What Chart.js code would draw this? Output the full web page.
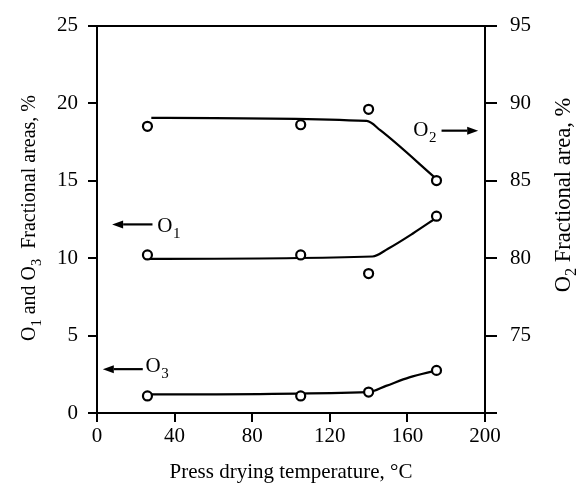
<!DOCTYPE html>
<html>
<head>
<meta charset="utf-8">
<script src="https://cdn.jsdelivr.net/npm/chart.js@4/dist/chart.umd.min.js"></script>
<style>
  html, body { margin: 0; padding: 0; background: #fff; }
  canvas { display: block; }
</style>
</head>
<body>
<canvas id="chart" width="577" height="485"></canvas>
<script>
  // measured points (temperature in °C)
  const temperatures = [26, 105, 140, 175];
  const o1Measured = [10.2, 10.2, 9.0, 12.7];
  const o2Measured = [88.5, 88.6, 89.6, 85.0];
  const o3Measured = [1.1, 1.1, 1.35, 2.75];

  // hand drawn trend curves
  const o1CurveTemps = [27, 142, 150, 163, 175];
  const o1Curve = [9.95, 10.1, 10.6, 11.6, 12.6];
  const o2CurveTemps = [28, 139, 146, 175];
  const o2Curve = [89.05, 88.85, 88.25, 85.1];
  const o3CurveTemps = [26, 140, 149, 161, 175];
  const o3Curve = [1.2, 1.35, 1.75, 2.3, 2.75];

  const xTicks = [0, 40, 80, 120, 160, 200];
  const leftTicks = [0, 5, 10, 15, 20, 25];
  const rightTicks = [70, 75, 80, 85, 90, 95];

  const FONT = "'Liberation Serif', 'Times New Roman', serif";

  // arrows with their series names, in data units
  const notes = [
    { axis: "yL", from: 28.6, to: 7.8, y: 12.17, name: "O", sub: "1", textX: 31.1, textY: 11.68 },
    { axis: "yL", from: 23.6, to: 3.0, y: 2.83, name: "O", sub: "3", textX: 25.0, textY: 2.63 },
    { axis: "yR", from: 177.6, to: 196.5, y: 88.22, name: "O", sub: "2", textX: 163.0, textY: 87.9 },
  ];

  function pts(xs, ys) {
    return xs.map((x, i) => ({ x, y: ys[i] }));
  }

  function measured(data, axis) {
    return {
      data, yAxisID: axis, showLine: false, order: 0,
      pointRadius: 4.5, pointBorderWidth: 2.2,
      pointBackgroundColor: "#fff", pointBorderColor: "#000",
    };
  }

  function curve(data, axis) {
    return {
      data, yAxisID: axis, order: 1, pointRadius: 0,
      borderColor: "#000", borderWidth: 2.2, cubicInterpolationMode: "monotone",
    };
  }

  function richText(ctx, parts, size) {
    // parts: [text, isSubscript]
    const widths = parts.map(([t, sub]) => {
      ctx.font = (sub ? size * 0.72 : size) + "px " + FONT;
      return ctx.measureText(t).width;
    });
    const total = widths.reduce((a, b) => a + b, 0);
    let x = -total / 2;
    parts.forEach(([t, sub], i) => {
      ctx.font = (sub ? size * 0.72 : size) + "px " + FONT;
      ctx.fillText(t, x, sub ? size * 0.28 : 0);
      x += widths[i];
    });
  }

  function arrow(ctx, x1, x2, y) {
    const dir = Math.sign(x2 - x1);
    const head = 11;
    ctx.beginPath();
    ctx.moveTo(x1, y);
    ctx.lineTo(x2 - dir * head, y);
    ctx.lineWidth = 2.2;
    ctx.stroke();
    ctx.beginPath();
    ctx.moveTo(x2, y);
    ctx.lineTo(x2 - dir * head, y - 4);
    ctx.lineTo(x2 - dir * head, y + 4);
    ctx.closePath();
    ctx.fill();
  }

  const extras = {
    id: "extras",
    afterDraw(chart) {
      const ctx = chart.ctx;
      const xs = chart.scales.x;
      ctx.save();
      ctx.fillStyle = "#000";
      ctx.strokeStyle = "#000";
      ctx.textBaseline = "alphabetic";
      ctx.textAlign = "left";

      notes.forEach((n) => {
        const ys = chart.scales[n.axis];
        arrow(ctx, xs.getPixelForValue(n.from), xs.getPixelForValue(n.to), ys.getPixelForValue(n.y));
        const tx = xs.getPixelForValue(n.textX);
        const ty = ys.getPixelForValue(n.textY);
        ctx.font = "21px " + FONT;
        ctx.fillText(n.name, tx, ty);
        const w = ctx.measureText(n.name).width;
        ctx.font = "15px " + FONT;
        ctx.fillText(n.sub, tx + w + 0.5, ty + 6);
      });

      // axis titles, both reading bottom to top
      ctx.save();
      ctx.translate(35, 218);
      ctx.rotate(-Math.PI / 2);
      richText(ctx, [["O", 0], ["1", 1], [" and O", 0], ["3", 1], ["  Fractional areas, %", 0]], 20);
      ctx.restore();

      ctx.save();
      ctx.translate(570, 195);
      ctx.rotate(-Math.PI / 2);
      richText(ctx, [["O", 0], ["2", 1], [" Fractional area, %", 0]], 22.5);
      ctx.restore();

      ctx.restore();
    },
  };

  new Chart(document.getElementById("chart"), {
    type: "line",
    data: {
      datasets: [
        measured(pts(temperatures, o1Measured), "yL"),
        measured(pts(temperatures, o2Measured), "yR"),
        measured(pts(temperatures, o3Measured), "yL"),
        curve(pts(o1CurveTemps, o1Curve), "yL"),
        curve(pts(o2CurveTemps, o2Curve), "yR"),
        curve(pts(o3CurveTemps, o3Curve), "yL"),
      ],
    },
    options: {
      responsive: false,
      animation: false,
      layout: { padding: { top: 21, left: 0, right: 0, bottom: 0 } },
      plugins: { legend: { display: false }, tooltip: { enabled: false } },
      scales: {
        x: {
          type: "linear", min: 0, max: 200,
          afterBuildTicks: (s) => { s.ticks = xTicks.map((v) => ({ value: v })); },
          afterFit: (s) => { s.height = 72; },
          border: { color: "#000", width: 2 },
          grid: { drawOnChartArea: false, color: "#000", tickLength: 9, lineWidth: 2 },
          ticks: { color: "#000", font: { family: FONT, size: 21 }, padding: 2, maxRotation: 0 },
          title: {
            display: true, text: "Press drying temperature, °C", color: "#000",
            font: { family: FONT, size: 21 }, padding: 0,
          },
        },
        yL: {
          position: "left", min: 0, max: 25,
          afterBuildTicks: (s) => { s.ticks = leftTicks.map((v) => ({ value: v })); },
          afterFit: (s) => { s.width = 97; },
          border: { color: "#000", width: 2 },
          grid: {
            color: (c) => (c.tick && c.tick.value === 25 ? "#000" : "rgba(0,0,0,0)"),
            tickColor: "#000", tickLength: 9, lineWidth: 2,
          },
          ticks: { color: "#000", font: { family: FONT, size: 21 }, padding: 10 },
        },
        yR: {
          position: "right", min: 70, max: 95,
          afterBuildTicks: (s) => { s.ticks = rightTicks.map((v) => ({ value: v })); },
          afterFit: (s) => { s.width = 92; },
          border: { color: "#000", width: 2 },
          grid: { drawOnChartArea: false, color: "#000", tickLength: 12, lineWidth: 2 },
          ticks: {
            color: "#000", font: { family: FONT, size: 21 }, padding: 13,
            callback: (v) => (v === 70 ? "" : v),
          },
        },
      },
    },
    plugins: [extras],
  });
</script>
</body>
</html>
